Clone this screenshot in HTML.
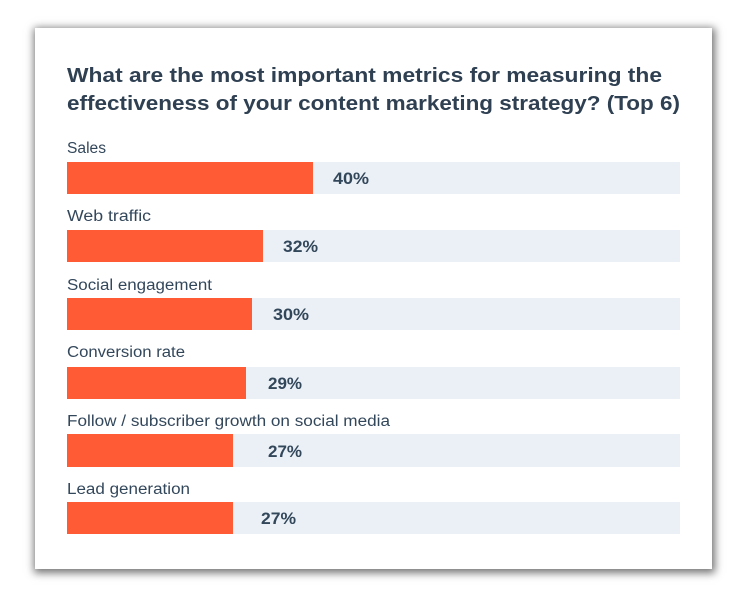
<!DOCTYPE html>
<html>
<head>
<meta charset="utf-8">
<style>
  html,body{margin:0;padding:0;background:#ffffff;}
  body{width:750px;height:600px;position:relative;overflow:hidden;}
  .card{position:absolute;left:35px;top:28px;width:677px;height:541px;background:#ffffff;
        box-shadow:1px 2px 8px 2px rgba(0,0,0,0.55);}
  svg{position:absolute;left:0;top:0;}
</style>
</head>
<body>
<div class="card"></div>
<svg width="750" height="600" viewBox="0 0 750 600" xmlns="http://www.w3.org/2000/svg">
  <g font-family="Liberation Sans, Arial, sans-serif" fill="#2f4052">
    <text x="67" y="82" font-size="20" font-weight="bold" textLength="595" lengthAdjust="spacingAndGlyphs">What are the most important metrics for measuring the</text>
    <text x="67" y="110" font-size="20" font-weight="bold" textLength="613" lengthAdjust="spacingAndGlyphs">effectiveness of your content marketing strategy? (Top 6)</text>
  </g>

  <g>
    <rect x="67" y="162" width="613" height="32" fill="#eaf0f6"/>
    <rect x="67" y="162" width="246" height="32" fill="#ff5c35"/>
    <rect x="67" y="230" width="613" height="32" fill="#eaf0f6"/>
    <rect x="67" y="230" width="196" height="32" fill="#ff5c35"/>
    <rect x="67" y="298" width="613" height="32" fill="#eaf0f6"/>
    <rect x="67" y="298" width="185" height="32" fill="#ff5c35"/>
    <rect x="67" y="367" width="613" height="32" fill="#eaf0f6"/>
    <rect x="67" y="367" width="179" height="32" fill="#ff5c35"/>
    <rect x="67" y="434" width="613" height="33" fill="#eaf0f6"/>
    <rect x="67" y="434" width="166" height="33" fill="#ff5c35"/>
    <rect x="67" y="502" width="613" height="32" fill="#eaf0f6"/>
    <rect x="67" y="502" width="166" height="32" fill="#ff5c35"/>
  </g>

  <g font-family="Liberation Sans, Arial, sans-serif" font-size="15.5" fill="#33475b">
    <text x="67" y="153" textLength="39" lengthAdjust="spacingAndGlyphs">Sales</text>
    <text x="67" y="221" textLength="84" lengthAdjust="spacingAndGlyphs">Web traffic</text>
    <text x="67" y="290" textLength="145" lengthAdjust="spacingAndGlyphs">Social engagement</text>
    <text x="67" y="357" textLength="118" lengthAdjust="spacingAndGlyphs">Conversion rate</text>
    <text x="67" y="426" textLength="323" lengthAdjust="spacingAndGlyphs">Follow / subscriber growth on social media</text>
    <text x="67" y="494" textLength="123" lengthAdjust="spacingAndGlyphs">Lead generation</text>
  </g>

  <g font-family="Liberation Sans, Arial, sans-serif" font-size="17" font-weight="bold" fill="#33475b">
    <text x="333" y="184" textLength="36" lengthAdjust="spacingAndGlyphs">40%</text>
    <text x="283" y="252" textLength="35" lengthAdjust="spacingAndGlyphs">32%</text>
    <text x="273" y="320" textLength="36" lengthAdjust="spacingAndGlyphs">30%</text>
    <text x="268" y="389" textLength="34" lengthAdjust="spacingAndGlyphs">29%</text>
    <text x="268" y="457" textLength="34" lengthAdjust="spacingAndGlyphs">27%</text>
    <text x="261" y="524" textLength="35" lengthAdjust="spacingAndGlyphs">27%</text>
  </g>
</svg>
</body>
</html>
